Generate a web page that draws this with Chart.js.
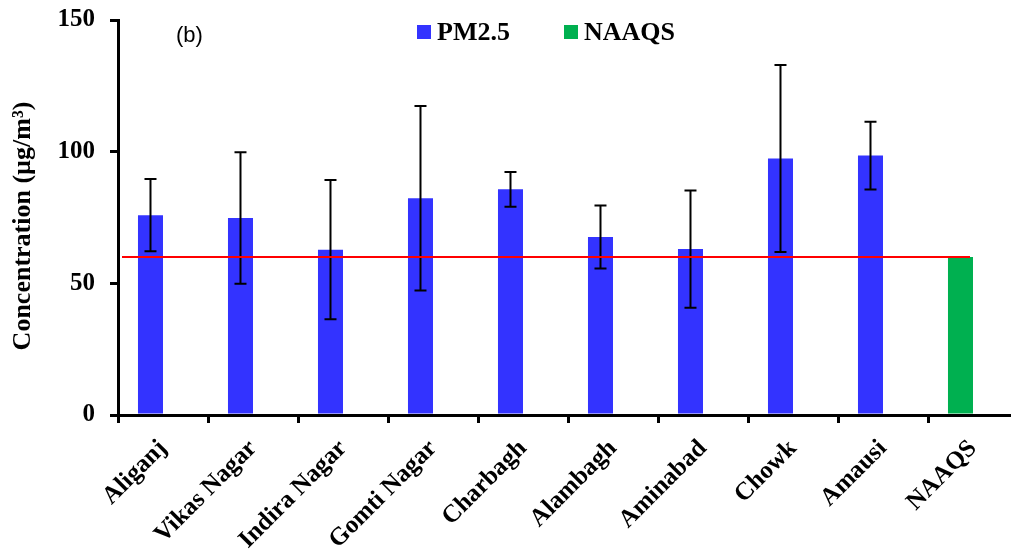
<!DOCTYPE html>
<html>
<head>
  <title>PM2.5 concentration by site</title>
  <style>
    html, body {
      margin: 0;
      padding: 0;
      background: #fff;
      overflow: hidden;
    }

    #chart-container {
      width: 1020px;
      height: 554px;
    }
  </style>
</head>
<body>
  <div id="chart-container">
    <canvas id="pm-chart"></canvas>
  </div>

  <script src="https://cdn.jsdelivr.net/npm/chart.js"></script>
  <script>
    // Values
    const sites = ["Aliganj", "Vikas Nagar", "Indira Nagar", "Gomti Nagar", "Charbagh",
                   "Alambagh", "Aminabad", "Chowk", "Amausi", "NAAQS"];
    const pm25Mean = [75.9, 74.8, 62.8, 82.3, 85.7, 67.6, 63.0, 97.4, 98.5, 60];
    const pm25Sd = [13.7, 25.0, 26.4, 35.0, 6.6, 12.0, 22.3, 35.5, 12.9, null];
    const naaqsLimit = 60;
    const yTicks = [0, 50, 100, 150];

    const blue = "#3333ff";
    const green = "#00b050";
    const serif = "'Liberation Serif', 'Times New Roman', serif";

    // one colour per bar: the last one is the standard itself
    const barColors = sites.map(s => (s === "NAAQS" ? green : blue));

    // error bars from the mean +/- sd, drawn through the y scale
    const errorBars = {
      id: "errorBars",
      afterDatasetsDraw(chart) {
        const ctx = chart.ctx;
        const y = chart.scales.y;
        const meta = chart.getDatasetMeta(0);
        ctx.save();
        ctx.strokeStyle = "#000";
        ctx.lineWidth = 2;
        meta.data.forEach((bar, i) => {
          if (pm25Sd[i] == null) return;
          const top = y.getPixelForValue(pm25Mean[i] + pm25Sd[i]);
          const bot = y.getPixelForValue(pm25Mean[i] - pm25Sd[i]);
          ctx.beginPath();
          ctx.moveTo(bar.x, top);
          ctx.lineTo(bar.x, bot);
          ctx.moveTo(bar.x - 6, top);
          ctx.lineTo(bar.x + 6, top);
          ctx.moveTo(bar.x - 6, bot);
          ctx.lineTo(bar.x + 6, bot);
          ctx.stroke();
        });
        ctx.restore();
      }
    };

    // red limit line, from the axis to the NAAQS bar
    const limitLine = {
      id: "limitLine",
      afterDatasetsDraw(chart) {
        const ctx = chart.ctx;
        const area = chart.chartArea;
        const meta = chart.getDatasetMeta(0);
        const last = meta.data[meta.data.length - 1];
        const yPix = chart.scales.y.getPixelForValue(naaqsLimit);
        ctx.save();
        ctx.strokeStyle = "#ff0000";
        ctx.lineWidth = 2;
        ctx.beginPath();
        ctx.moveTo(area.left + 4, yPix);
        ctx.lineTo(last.x + last.width / 2 - 3, yPix);
        ctx.stroke();
        ctx.restore();
      }
    };

    // legend, panel tag and y title drawn by hand so they sit where the figure has them
    const insideLegend = {
      id: "insideLegend",
      afterDraw(chart) {
        const ctx = chart.ctx;
        ctx.save();
        ctx.font = "bold 26px " + serif;
        ctx.textBaseline = "alphabetic";
        ctx.fillStyle = "#000";
        const items = [
          { label: chart.data.datasets[0].label, color: blue, x: 417 },
          { label: chart.data.datasets[1].label, color: chart.data.datasets[1].backgroundColor, x: 564 }
        ];
        items.forEach(it => {
          ctx.fillStyle = it.color;
          ctx.fillRect(it.x, 25, 14, 14);
          ctx.fillStyle = "#000";
          ctx.fillText(it.label, it.x + 20, 40);
        });
        ctx.font = "22px 'Liberation Sans', Arial, sans-serif";
        ctx.fillText("(b)", 176, 42);

        // y axis title
        ctx.translate(23, 226);
        ctx.rotate(-Math.PI / 2);
        ctx.font = "bold 26px " + serif;
        ctx.textAlign = "center";
        ctx.textBaseline = "middle";
        ctx.fillText("Concentration (\u00b5g/m\u00b3)", 0, 0);
        ctx.restore();
      }
    };

    const ctx = document.getElementById("pm-chart").getContext("2d");
    new Chart(ctx, {
      type: "bar",
      data: {
        labels: sites,
        datasets: [
          {
            label: "PM2.5",
            data: pm25Mean,
            backgroundColor: barColors,
            borderWidth: 0
          },
          {
            label: "NAAQS",
            data: sites.map(() => null),
            backgroundColor: green,
            borderWidth: 0
          }
        ]
      },
      options: {
        responsive: true,
        maintainAspectRatio: false,
        animation: false,
        categoryPercentage: 0.556,
        barPercentage: 1,
        layout: {
          padding: { top: 20, right: 2, left: 0, bottom: 0 }
        },
        plugins: {
          legend: { display: false },
          tooltip: { enabled: false }
        },
        scales: {
          x: {
            grid: {
              drawOnChartArea: false,
              offset: true,
              color: "#000",
              lineWidth: 3,
              tickLength: 8
            },
            border: { color: "#000", width: 3 },
            ticks: {
              color: "#000",
              font: { family: serif, size: 25, weight: "bold" },
              minRotation: 45,
              maxRotation: 45,
              padding: 11
            },
            afterFit(scale) { scale.height = 139; }
          },
          y: {
            min: 0,
            max: 150,
            afterBuildTicks(scale) {
              scale.ticks = yTicks.map(v => ({ value: v }));
            },
            grid: {
              drawOnChartArea: false,
              color: "#000",
              lineWidth: 3,
              tickLength: 8
            },
            border: { color: "#000", width: 3 },
            ticks: {
              color: "#000",
              font: { family: serif, size: 25, weight: "bold" },
              padding: 15
            },
            afterFit(scale) {
              scale.width = 118;
              scale.paddingTop = 0;
              scale.paddingBottom = 0;
            }
          }
        }
      },
      plugins: [errorBars, limitLine, insideLegend]
    });
  </script>
</body>
</html>
